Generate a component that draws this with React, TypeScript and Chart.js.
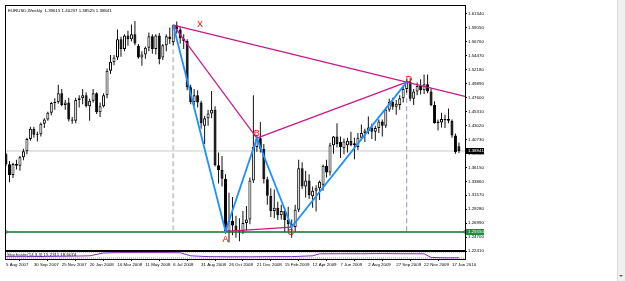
import React, { useEffect, useRef } from 'react';
import { Chart, registerables } from 'chart.js';

Chart.register(...registerables);

const symbolTitle = 'EURUSD,Weekly';
const headerValues = ['1.39615', '1.40237', '1.38525', '1.38841'];

const dateLabels = ['5 Aug 2007', '30 Sep 2007', '25 Nov 2007', '20 Jan 2008', '16 Mar 2008', '11 May 2008', '6 Jul 2008', '31 Aug 2008', '26 Oct 2008', '21 Dec 2008', '15 Feb 2009', '12 Apr 2009', '7 Jun 2009', '2 Aug 2009', '27 Sep 2009', '22 Nov 2009', '17 Jan 2010'];
const dateLabelBars = [0, 8, 16, 24, 32, 40, 48, 56, 64, 72, 80, 88, 96, 104, 112, 120, 128];

const priceTicks = [1.6134, 1.5905, 1.5676, 1.5447, 1.5218, 1.4989, 1.476, 1.4531, 1.4302, 1.4073, 1.3844, 1.3615, 1.3386, 1.3157, 1.2928, 1.2699, 1.247, 1.2241];

const opens = [1.3830, 1.3665, 1.3490, 1.3670, 1.3640, 1.3780, 1.3880, 1.4080, 1.4250, 1.4150, 1.4160, 1.4330, 1.4400, 1.4510, 1.4670, 1.4690, 1.4830, 1.4640, 1.4680, 1.4400, 1.4380, 1.4720, 1.4750, 1.4800, 1.4620, 1.4710, 1.4830, 1.4520, 1.4620, 1.4800, 1.5200, 1.5340, 1.5420, 1.5720, 1.5560, 1.5780, 1.5720, 1.5800, 1.5610, 1.5420, 1.5470, 1.5580, 1.5770, 1.5560, 1.5780, 1.5420, 1.5620, 1.5765, 1.5670, 1.5950, 1.5880, 1.5730, 1.5690, 1.4930, 1.4690, 1.4800, 1.4680, 1.4300, 1.4420, 1.4500, 1.4560, 1.3650, 1.3570, 1.3430, 1.2565, 1.2740, 1.2660, 1.2580, 1.2560, 1.2700, 1.2760, 1.3400, 1.3950, 1.4095, 1.3920, 1.3420, 1.3150, 1.2900, 1.2950, 1.2830, 1.2900, 1.2750, 1.2680, 1.2635, 1.2920, 1.3600, 1.3300, 1.3400, 1.3140, 1.3230, 1.3270, 1.3330, 1.3640, 1.3530, 1.3980, 1.4120, 1.4030, 1.3930, 1.3980, 1.4050, 1.3980, 1.3950, 1.4100, 1.4180, 1.4210, 1.4270, 1.4200, 1.4260, 1.4370, 1.4300, 1.4560, 1.4690, 1.4610, 1.4640, 1.4750, 1.4900, 1.5015, 1.4740, 1.4860, 1.4950, 1.4880, 1.4980, 1.4860, 1.4640, 1.4340, 1.4350, 1.4390, 1.4410, 1.4380, 1.4140, 1.39615];
const highs = [1.3850, 1.3720, 1.3690, 1.3740, 1.3800, 1.3920, 1.4100, 1.4280, 1.4280, 1.4200, 1.4350, 1.4420, 1.4530, 1.4690, 1.4750, 1.4970, 1.4900, 1.4720, 1.4760, 1.4440, 1.4760, 1.4800, 1.4900, 1.4850, 1.4740, 1.4900, 1.4850, 1.4680, 1.4830, 1.5240, 1.5460, 1.5460, 1.5880, 1.5760, 1.5800, 1.5860, 1.5960, 1.6020, 1.5640, 1.5520, 1.5600, 1.5830, 1.5800, 1.5800, 1.5820, 1.5640, 1.5800, 1.5910, 1.5960, 1.6010, 1.5920, 1.5800, 1.5720, 1.4970, 1.4900, 1.4880, 1.4710, 1.4460, 1.4560, 1.4870, 1.4620, 1.3860, 1.3800, 1.3500, 1.3200, 1.3130, 1.2820, 1.2780, 1.2900, 1.2980, 1.3450, 1.4800, 1.4150, 1.4360, 1.4000, 1.3460, 1.3270, 1.3250, 1.3050, 1.3000, 1.2950, 1.2970, 1.2760, 1.3000, 1.3740, 1.3700, 1.3560, 1.3500, 1.3300, 1.3320, 1.3400, 1.3660, 1.3740, 1.4020, 1.4130, 1.4340, 1.4120, 1.4090, 1.4100, 1.4200, 1.4100, 1.4180, 1.4320, 1.4250, 1.4450, 1.4330, 1.4300, 1.4400, 1.4400, 1.4580, 1.4740, 1.4760, 1.4720, 1.4800, 1.4940, 1.5060, 1.5080, 1.4900, 1.5010, 1.5060, 1.5140, 1.5140, 1.4910, 1.4700, 1.4400, 1.4510, 1.4480, 1.4580, 1.4400, 1.4170, 1.40237];
const lows = [1.3640, 1.3370, 1.3440, 1.3580, 1.3560, 1.3730, 1.3830, 1.4050, 1.4100, 1.4040, 1.4120, 1.4260, 1.4380, 1.4470, 1.4560, 1.4660, 1.4620, 1.4560, 1.4370, 1.4330, 1.4340, 1.4600, 1.4650, 1.4600, 1.4380, 1.4680, 1.4490, 1.4440, 1.4600, 1.4750, 1.5150, 1.5290, 1.5380, 1.5430, 1.5520, 1.5610, 1.5680, 1.5620, 1.5400, 1.5285, 1.5400, 1.5520, 1.5480, 1.5470, 1.5310, 1.5380, 1.5520, 1.5640, 1.5620, 1.5810, 1.5650, 1.5560, 1.4880, 1.4650, 1.4620, 1.4600, 1.4250, 1.4000, 1.4300, 1.4420, 1.3630, 1.3350, 1.3300, 1.2520, 1.2380, 1.2500, 1.2460, 1.2400, 1.2520, 1.2580, 1.2680, 1.3360, 1.3870, 1.3860, 1.3350, 1.3000, 1.2800, 1.2780, 1.2750, 1.2760, 1.2550, 1.2560, 1.2460, 1.2550, 1.2880, 1.3260, 1.3120, 1.3100, 1.2950, 1.2890, 1.3080, 1.3230, 1.3450, 1.3480, 1.3840, 1.3940, 1.3770, 1.3830, 1.3860, 1.3960, 1.3750, 1.3900, 1.4060, 1.4030, 1.4160, 1.4080, 1.4050, 1.4180, 1.4120, 1.4260, 1.4530, 1.4560, 1.4480, 1.4560, 1.4680, 1.4840, 1.4700, 1.4640, 1.4800, 1.4810, 1.4820, 1.4830, 1.4620, 1.4330, 1.4220, 1.4270, 1.4260, 1.4340, 1.4100, 1.3840, 1.38525];
const closes = [1.3665, 1.3490, 1.3670, 1.3640, 1.3780, 1.3880, 1.4080, 1.4250, 1.4150, 1.4160, 1.4330, 1.4400, 1.4510, 1.4670, 1.4690, 1.4830, 1.4640, 1.4680, 1.4400, 1.4380, 1.4720, 1.4750, 1.4800, 1.4620, 1.4710, 1.4830, 1.4520, 1.4620, 1.4800, 1.5200, 1.5350, 1.5420, 1.5720, 1.5560, 1.5780, 1.5720, 1.5800, 1.5650, 1.5420, 1.5470, 1.5580, 1.5770, 1.5560, 1.5780, 1.5390, 1.5620, 1.5770, 1.5720, 1.5950, 1.5880, 1.5730, 1.5690, 1.4930, 1.4690, 1.4800, 1.4680, 1.4340, 1.4420, 1.4500, 1.4560, 1.3650, 1.3570, 1.3430, 1.2565, 1.2740, 1.2660, 1.2580, 1.2560, 1.2700, 1.2760, 1.3400, 1.3950, 1.4095, 1.3920, 1.3420, 1.3150, 1.2900, 1.2950, 1.2830, 1.2900, 1.2750, 1.2680, 1.2635, 1.2920, 1.3600, 1.3300, 1.3400, 1.3160, 1.3230, 1.3270, 1.3380, 1.3640, 1.3530, 1.3980, 1.4120, 1.4000, 1.3950, 1.4040, 1.4050, 1.3980, 1.4010, 1.4100, 1.4180, 1.4220, 1.4270, 1.4200, 1.4260, 1.4370, 1.4300, 1.4560, 1.4690, 1.4610, 1.4660, 1.4750, 1.4900, 1.5015, 1.4740, 1.4860, 1.4950, 1.4880, 1.4980, 1.4860, 1.4640, 1.4340, 1.4370, 1.4410, 1.4410, 1.4380, 1.4140, 1.3865, 1.38841];

const patternNames = ['X', 'A', 'B', 'C', 'D'];
const patternBars = [48, 63, 72, 82, 115];
const labelBars = [55.7, 63, 72, 81.7, 115.7];
const labelPrices = [1.5954, 1.2437, 1.4171, 1.2552, 1.5054];

const supportLevel = 1.2555;
const supportLabel = '1.25550';

const indicatorTitle = 'Stochastic(14,3,3) 15.2311 18.6074';
const indicatorBars = [0, 6, 12, 18, 24, 28, 32, 38, 44, 50, 53, 58, 64, 70, 76, 82, 88, 90, 96, 102, 108, 114, 120, 122, 126, 130];
const indicatorValues = [30, 30, 32, 35, 40, 75, 80, 80, 80, 78, 40, 30, 28, 28, 30, 30, 40, 65, 66, 66, 68, 66, 65, 20, 15, 15];
const indicatorLevels = [88, 12];

const X_MIN = -0.29;
const X_MAX = 131.74;
const P_MIN = 1.2241;
const P_MAX = 1.62812;

const SMALL_FONT = 'Liberation Sans';

const mtDecor = {
  id: 'mtDecor',
  afterDraw(chart: any) {
    const { ctx, chartArea } = chart;
    const xs = chart.scales.x;
    const ys = chart.scales.y;
    const yi = chart.scales.yInd;
    ctx.save();
    ctx.strokeStyle = '#000';
    ctx.lineWidth = 1;
    ctx.strokeRect(Math.round(chartArea.left) + 0.5, Math.round(ys.top) + 0.5, Math.round(chartArea.right - chartArea.left), Math.round(ys.bottom - ys.top));
    ctx.strokeRect(Math.round(chartArea.left) + 0.5, Math.round(yi.top) + 0.5, Math.round(chartArea.right - chartArea.left), Math.round(yi.bottom - yi.top));
    ctx.lineWidth = 2;
    ctx.beginPath();
    ctx.moveTo(chartArea.left, Math.round(ys.bottom));
    ctx.lineTo(chartArea.right, Math.round(ys.bottom));
    ctx.stroke();

    ctx.fillStyle = '#000';
    ctx.font = `4.4px "${SMALL_FONT}"`;
    ctx.textBaseline = 'middle';
    ctx.textAlign = 'left';
    ctx.fillText(symbolTitle + '  ' + headerValues.join(' '), chartArea.left + 3, ys.top + 6);
    ctx.fillText(indicatorTitle, chartArea.left + 2, (yi.top + yi.bottom) / 2);

    ctx.fillStyle = '#ff0000';
    ctx.font = `9px "${SMALL_FONT}"`;
    ctx.textAlign = 'center';
    ctx.textBaseline = 'middle';
    patternNames.forEach((t, k) => {
      ctx.fillText(t, xs.getPixelForValue(labelBars[k]), ys.getPixelForValue(labelPrices[k]));
    });

    const tag = (price: number, text: string, bg: string) => {
      const y = ys.getPixelForValue(price);
      ctx.fillStyle = bg;
      ctx.fillRect(chartArea.right + 1, Math.round(y - 3), 18, 6);
      ctx.fillStyle = '#fff';
      ctx.font = `4.4px "${SMALL_FONT}"`;
      ctx.textAlign = 'left';
      ctx.fillText(text, chartArea.right + 3, y);
    };
    tag(closes[closes.length - 1], closes[closes.length - 1].toFixed(5), '#000');
    tag(supportLevel, supportLabel, '#1e8c3c');

    const W = chart.width;
    const H = chart.height;
    ctx.fillStyle = '#f0f0f0';
    ctx.fillRect(W - 8, 0, 8, H);
    ctx.fillStyle = '#dcdcdc';
    ctx.fillRect(W - 8, 0, 1, H);
    ctx.fillStyle = '#606060';
    ctx.beginPath();
    ctx.moveTo(W - 6, H - 6);
    ctx.lineTo(W - 2, H - 6);
    ctx.lineTo(W - 4, H - 4);
    ctx.closePath();
    ctx.fill();
    ctx.restore();
  },
};

export default function App() {
  const ref = useRef<HTMLCanvasElement | null>(null);
  useEffect(() => {
    document.body.style.margin = '0';
    const canvas = ref.current;
    if (!canvas) return;
    const idx = closes.map((_, i) => i);
    const wickData = idx.map((i) => ({ x: i, y: [lows[i], highs[i]] }));
    const bodyData = idx.map((i) => ({ x: i, y: [Math.min(opens[i], closes[i]), Math.max(opens[i], closes[i])] }));
    const bodyColors = idx.map((i) => (closes[i] >= opens[i] ? '#ffffff' : '#000000'));
    const pt = (k: number) => ({ x: patternBars[k], y: closes[patternBars[k]] });
    const X = pt(0), A = pt(1), B = pt(2), C = pt(3), D = pt(4);
    const slopeXD = (D.y - X.y) / (D.x - X.x);
    const rayEnd = { x: X_MAX, y: D.y + slopeXD * (X_MAX - D.x) };
    const last = closes[closes.length - 1];
    const magenta = '#c8168c';
    const lineBase = { type: 'line', pointRadius: 0, fill: false, tension: 0, borderWidth: 1 };

    const chart = new Chart(canvas, {
      type: 'bar',
      data: {
        datasets: [
          { ...lineBase, label: 'last', order: 5, data: [{ x: X_MIN, y: last }, { x: X_MAX, y: last }], borderColor: '#c8c8c8' },
          { ...lineBase, label: 'vX', order: 5, data: [{ x: X.x, y: X.y }, { x: X.x, y: supportLevel }], borderColor: '#c9ced6', borderWidth: 2, borderDash: [5, 3] },
          { ...lineBase, label: 'vD', order: 5, data: [{ x: D.x, y: D.y }, { x: D.x, y: supportLevel }], borderColor: '#8d9bb0', borderWidth: 1, borderDash: [5, 3] },
          { type: 'bar', label: 'wicks', order: 2, data: wickData, backgroundColor: '#111', barThickness: 1, grouped: false, borderWidth: 0, inflateAmount: 0 },
          { type: 'bar', label: 'bodies', order: 1, data: bodyData, backgroundColor: bodyColors, borderColor: '#000', borderWidth: 1, borderSkipped: false, barThickness: 3, grouped: false, minBarLength: 1, inflateAmount: 0 },
          { ...lineBase, label: 'support', order: 0, data: [{ x: X_MIN + 0.3, y: supportLevel }, { x: X_MAX, y: supportLevel }], borderColor: '#107020', borderWidth: 1.5, pointRadius: 1.5, pointStyle: 'rect', pointBackgroundColor: '#ffffff', pointBorderColor: '#107020', pointBorderWidth: 1 },
          { ...lineBase, label: 'XB', order: -1, data: [X, B], borderColor: magenta, borderWidth: 1.2 },
          { ...lineBase, label: 'AC', order: -1, data: [A, C], borderColor: magenta, borderWidth: 1.2 },
          { ...lineBase, label: 'BD', order: -1, data: [B, D], borderColor: magenta, borderWidth: 1.2 },
          { ...lineBase, label: 'XD', order: -1, data: [X, D, rayEnd], borderColor: magenta, borderWidth: 1.2 },
          { ...lineBase, label: 'XABCD', order: -2, data: [X, A, B, C, D], borderColor: '#1e90ff', borderWidth: 1.8 },
          ...indicatorLevels.map((lv) => ({ ...lineBase, label: 'lvl' + lv, order: 4, yAxisID: 'yInd', data: [{ x: X_MIN, y: lv }, { x: X_MAX, y: lv }], borderColor: '#d27ad8', borderDash: [1, 1] })),
          { ...lineBase, label: 'ind', order: 3, yAxisID: 'yInd', data: indicatorBars.map((b, k) => ({ x: b, y: indicatorValues[k] })), borderColor: '#7a2fb8' },
        ] as any,
      },
      options: {
        responsive: false,
        animation: false,
        devicePixelRatio: 1,
        layout: { padding: { left: 5, top: 4, right: 0, bottom: 0 } },
        plugins: { legend: { display: false }, tooltip: { enabled: false } },
        scales: {
          x: {
            type: 'linear', min: X_MIN, max: X_MAX, offset: false,
            afterBuildTicks: (s: any) => { s.ticks = dateLabelBars.map((v) => ({ value: v })); },
            afterFit: (s: any) => { s.height = 22; },
            ticks: {
              autoSkip: false, maxRotation: 0, minRotation: 0, align: 'start', padding: 1, color: '#000',
              font: { size: 4.4, family: SMALL_FONT },
              callback: (v: any) => { const k = dateLabelBars.indexOf(Number(v)); return k >= 0 ? dateLabels[k] : ''; },
            },
            grid: { display: true, drawOnChartArea: false, drawTicks: true, tickLength: 2, color: '#000' },
            border: { display: false },
          },
          y: {
            type: 'linear', position: 'right', stack: 'win', stackWeight: 247, min: P_MIN, max: P_MAX,
            afterBuildTicks: (s: any) => { s.ticks = priceTicks.map((v) => ({ value: v })); },
            afterFit: (s: any) => { s.width = 160; },
            ticks: { autoSkip: false, padding: 1, color: '#000', font: { size: 4.4, family: SMALL_FONT }, callback: (v: any) => Number(v).toFixed(5) },
            grid: { display: true, drawOnChartArea: false, drawTicks: true, tickLength: 2, color: '#000' },
            border: { display: true, color: '#000' },
          },
          yInd: {
            type: 'linear', position: 'right', stack: 'win', stackWeight: 8, min: 0, max: 100,
            afterFit: (s: any) => { s.width = 160; },
            ticks: { display: false },
            grid: { display: false },
            border: { display: true, color: '#000' },
          },
        } as any,
      },
      plugins: [mtDecor],
    } as any);
    return () => chart.destroy();
  }, []);
  return (
    <div style={{ width: 625, height: 281, background: '#fff' }}>
      <canvas ref={ref} width={625} height={281} style={{ width: 625, height: 281, display: 'block' }} />
    </div>
  );
}
